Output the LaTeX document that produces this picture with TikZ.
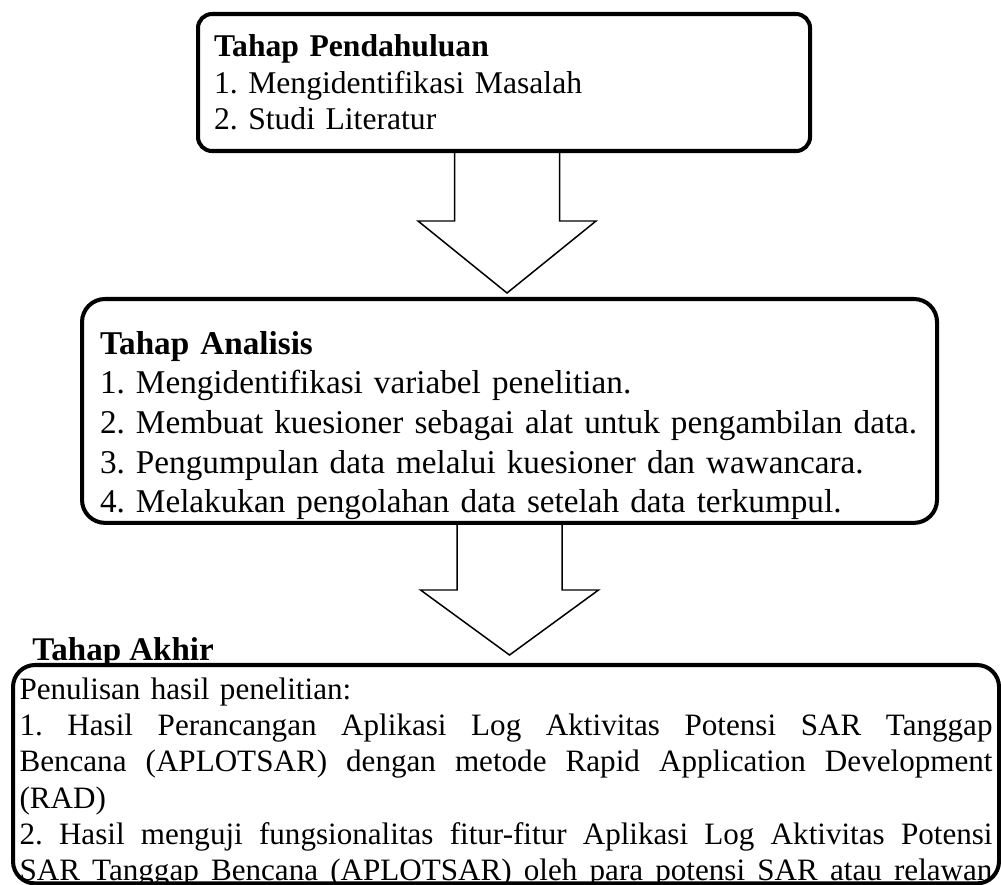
\documentclass[tikz,border=0pt]{standalone}
\usepackage{fontspec}
\setmainfont{Liberation Serif}
\frenchspacing
\usetikzlibrary{calc, positioning}
\tikzset{
  stagebox/.style = {draw, line width=2.3pt, align=left, anchor=north west,
                     inner ysep=0pt, font=\fontsize{18}{20.8}\selectfont},
  barr/.style     = {line width=0.85pt, line join=miter},
  ttl/.style      = {font=\fontsize{18.8}{20.8}\selectfont\bfseries, inner sep=0pt},
}
% block arrow: #1 top of shaft, #2 tip, #3 head length
\newcommand{\blockarr}[3]{%
  \draw[barr] ($(#1)+(-\shw,0)$) -- ($(#2)+(-\shw,#3)$) -- ($(#2)+(-\hdw,#3)$)
    -- (#2) -- ($(#2)+(\hdw,#3)$) -- ($(#2)+(\shw,#3)$) -- ($(#1)+(\shw,0)$);
}
% one justified line of the last box
\newcommand{\jline}[1]{\makebox[\hsize][s]{\spaceskip=0.25em plus 1em minus 0.08em #1}}

\begin{document}
\begin{tikzpicture}
\useasboundingbox (0,0) rectangle (20.02,-17.7);

\def\shw{1.05}   % half width of arrow shaft (cm)
\def\hdw{1.78}   % half width of arrow head (cm)

% ---- Stage boxes ----
\node[stagebox, rounded corners=0.28cm, inner xsep=0.32cm, text width=11.6cm,
      minimum height=2.74cm] (pend) at (3.92,-0.24)
{\textbf{Tahap Pendahuluan}\\
 1. Mengidentifikasi Masalah\\
 2. Studi Literatur};

\node[stagebox, rounded corners=0.46cm, inner xsep=0.36cm, text width=16.38cm,
      font=\fontsize{18.9}{22.6}\selectfont] (anal) at (1.6,-5.94)
{\rule{0pt}{1.1cm}\textbf{Tahap Analisis}\\
 1. Mengidentifikasi variabel penelitian.\\
 2. Membuat kuesioner sebagai alat untuk pengambilan data.\\
 3. Pengumpulan data melalui kuesioner dan wawancara.\\
 4. Melakukan pengolahan data setelah data terkumpul.\rule[-0.2cm]{0pt}{0pt}};

% title sits on the top edge of the last box
\node[ttl, anchor=base west] (akhirlbl) at (0.64,-13.2) {Tahap Akhir};

\node[stagebox, rounded corners=0.44cm, inner xsep=0.13cm, text width=19.46cm,
      font=\fontsize{17.7}{20.7}\selectfont] (akhir) at (0.22,-13.26)
{\rule{0pt}{0.68cm}Penulisan hasil penelitian:\\
 \jline{1. Hasil Perancangan Aplikasi Log Aktivitas Potensi SAR Tanggap}\\
 \jline{Bencana (APLOTSAR) dengan metode Rapid Application Development}\\
 (RAD)\\
 \jline{2. Hasil menguji fungsionalitas fitur-fitur Aplikasi Log Aktivitas Potensi}\\
 \raisebox{0pt}[\height][0.05cm]{\jline{SAR Tanggap Bencana (APLOTSAR) oleh para potensi SAR atau relawan}}};

% ---- Arrows between stages ----
\coordinate (a1top) at ($(pend.south -| anal.north)+(-0.05,0)$);
\coordinate (a1tip) at ($(anal.north)+(-0.05,0.08)$);
\blockarr{a1top}{a1tip}{1.44}

\coordinate (a2tip) at ($(akhir.north -| anal.south)+(0,0.16)$);
\blockarr{anal.south}{a2tip}{1.3}

\end{tikzpicture}
\end{document}
